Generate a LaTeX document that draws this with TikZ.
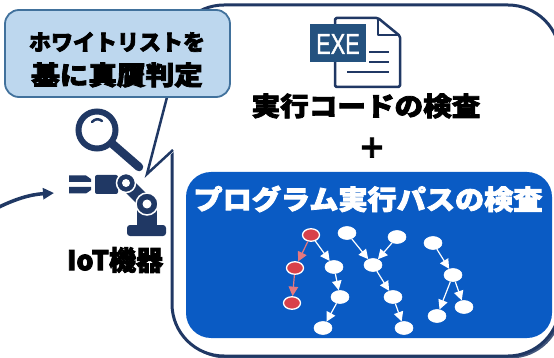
\documentclass[tikz,border=0pt]{standalone}
\usepackage{fontspec}
\usetikzlibrary{shapes.geometric,arrows.meta}
\newfontfamily\jp{Noto Sans CJK JP}[BoldFeatures={FakeBold=3}]
\newfontfamily\exefont{Liberation Sans}[FakeBold=1.5]
\definecolor{navy}{HTML}{203864}
\definecolor{calloutfill}{HTML}{BDD7EE}
\definecolor{calloutline}{HTML}{41719C}
\definecolor{bluebox}{HTML}{0A5BC4}
\definecolor{exeblue}{HTML}{24527F}
\definecolor{nodered}{HTML}{D8414A}
\definecolor{arrowred}{HTML}{E5787F}
\tikzset{
  jptext/.style={inner sep=0pt, anchor=center},
  gnode/.style={ellipse, fill=white, draw=white, line width=0.6pt,
    minimum width=18pt, minimum height=13pt, inner sep=0pt},
  rnode/.style={ellipse, fill=nodered, draw=white, line width=1.3pt,
    minimum width=17pt, minimum height=12.5pt, inner sep=0pt},
  garrow/.style={draw=white, line width=1.2pt, -{Triangle[length=9.5pt,width=9.5pt]}},
  rarrow/.style={draw=arrowred, line width=1.2pt, -{Triangle[length=9.5pt,width=9.5pt,fill=arrowred]}},
}
\begin{document}
\begin{tikzpicture}[x=1pt,y=-1pt]
\path[use as bounding box] (0,0) rectangle (554,358);
\clip (0,0) rectangle (554,358);

% large speech bubble with a zigzag tail
\fill[navy!85, rounded corners=52pt] (174.5,7.5) rectangle (562.5,358.5);
\filldraw[fill=white, draw=navy, line width=3pt, rounded corners=52pt] (172,5) rectangle (560,356);
\fill[white] (165,70) -- (147,174) -- (176,150) -- (176,70) -- cycle;
\draw[navy, line width=2.5pt, line join=miter] (172,78) -- (147,174) -- (173,150);

% callout box
\filldraw[fill=calloutfill, draw=calloutline, line width=1.8pt, rounded corners=14pt]
  (5,10) rectangle (230,97);
\node[jptext, font=\fontsize{22}{24}\jp\bfseries] (cl1) at (117,42) {ホワイトリストを};
\node[jptext, font=\fontsize{26}{28}\jp\bfseries] (cl2) at (117,75) {\scalebox{1.1}[1]{基に真贋判定}};

% EXE file icon
\filldraw[fill=white, draw=navy, line width=2.5pt, line join=round, rounded corners=1.5pt]
  (335,18) -- (378,18) -- (400,36) -- (400,87) -- (335,87) -- cycle;
\draw[navy, line width=2pt, line join=round] (378,18) -- (378,35) -- (400,35);
\draw[navy, line width=2pt] (369,52) -- (389,52) (369,62) -- (389,62) (347,72) -- (389,72);
\fill[exeblue] (310,24) rectangle (366,62);
\node[jptext, text=white, font=\fontsize{29}{31}\exefont] (exe) at (338,44) {\scalebox{0.75}[1]{EXE}};

% inspection texts
\node[jptext, font=\fontsize{26}{28}\jp\bfseries] (code) at (366,106) {\scalebox{1.1}[1]{実行コードの検査}};
\node[jptext, font=\fontsize{28}{30}\jp\bfseries] (plus) at (372,148) {＋};

% program path panel
\fill[bluebox, rounded corners=25pt] (186,172) rectangle (552,338);
\node[jptext, text=white, font=\fontsize{27}{29}\jp\bfseries] (title) at (368,199) {\scalebox{1.08}[1]{プログラム実行パスの検査}};

\node[rnode] (r1) at (311,235) {};
\node[rnode] (r2) at (295,268) {};
\node[rnode] (r3) at (292,303) {};
\node[gnode] (a) at (347,233) {};
\node[gnode] (b) at (397,237) {};
\node[gnode] (c) at (334,267) {};
\node[gnode] (d) at (373,265) {};
\node[gnode] (e) at (340,297) {};
\node[gnode] (f) at (393,297) {};
\node[gnode] (g) at (323,328) {};
\node[gnode] (h) at (404,328) {};
\node[gnode] (i) at (433,243) {};
\node[gnode] (j) at (453,275) {};
\node[gnode] (k) at (437,316) {};
\node[gnode] (l) at (464,307) {};

\draw[rarrow] (r1) -- (r2);
\draw[rarrow] (r2) -- (r3);
\draw[garrow] (r1) -- (c);
\draw[garrow] (c) -- (e);
\draw[garrow] (e) -- (g);
\draw[garrow] (a) -- (d);
\draw[garrow] (b) -- (d);
\draw[garrow] (d) -- (f);
\draw[garrow] (f) -- (h);
\draw[garrow] (i) -- (j);
\draw[garrow] (j) -- (k);
\draw[garrow] (j) -- (l);

% robot arm with magnifier
\draw[navy, line width=6pt] (97,130) circle (18.5);
\draw[navy, line width=2.5pt, line cap=round] (92,122) .. controls (95,118.5) and (99,118.5) .. (102,121);
\draw[navy, line width=8.5pt, line cap=round] (112.5,144) -- (139,167);
\fill[navy] (69,175.5) -- (86,175.5) -- (91,179) -- (91,182) -- (69,182) -- cycle;
\fill[navy] (69,187) -- (91,187) -- (91,190) -- (86,193.5) -- (69,193.5) -- cycle;
\fill[navy, rounded corners=2pt] (95,175) rectangle (118,194);
\draw[navy, line width=14pt] (126,183) -- (147,204);
\fill[navy] (137,204) rectangle (157,227);
\fill[navy, rounded corners=3pt] (127,225) rectangle (166,236);
\filldraw[fill=navy, draw=white, line width=1.5pt] (147,204) circle (11);
\fill[white] (147,204) circle (4.5);
\filldraw[fill=navy, draw=white, line width=1.5pt] (126,183) circle (9.5);
\fill[white] (126,183) circle (4);
\node[jptext, font=\fontsize{27}{29}\jp\bfseries] (iot) at (115,260) {IoT機器};

% incoming arrow
\coordinate (arrS) at (-5,209);
\coordinate (arrE) at (54,193);
\draw[navy, line width=3.5pt, -{Triangle[length=11pt,width=11pt]}]
  (arrS) .. controls (15,199) and (30,194.5) .. (arrE);
\end{tikzpicture}
\end{document}
